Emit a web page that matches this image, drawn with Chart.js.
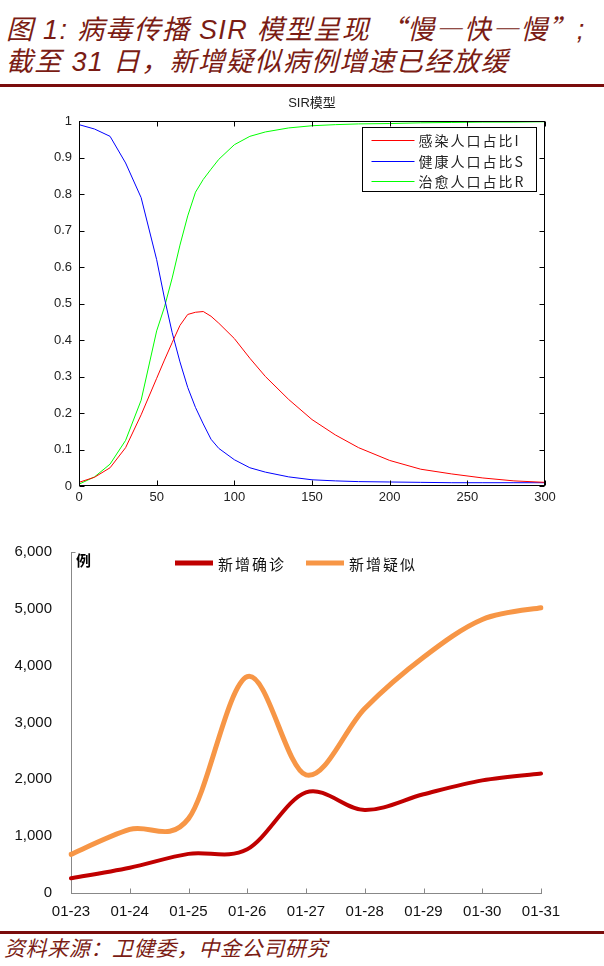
<!DOCTYPE html>
<html lang="zh">

<head>
  <meta charset="UTF-8">
  <title>SIR</title>
  <style>
    body {
      margin: 0;
      width: 604px;
      height: 966px;
      position: relative;
      background: #fff;
      overflow: hidden;
    }

    .headline {
      position: absolute;
      left: 6px;
      font: italic 27px/34px "Liberation Sans", "Noto Sans CJK SC", sans-serif;
      letter-spacing: 1.3px;
      color: #7a1c14;
      white-space: nowrap;
    }

    .cjk {
      font-family: "Noto Sans CJK SC", sans-serif;
    }

    .rule {
      position: absolute;
      left: 0;
      width: 604px;
      height: 3px;
      background: #7a0c0c;
    }

    #source {
      position: absolute;
      left: 4px;
      top: 935px;
      font: italic 21px/24px "Noto Sans CJK SC", sans-serif;
      letter-spacing: 0.6px;
      color: #7a1c14;
    }

    .box {
      position: absolute;
      left: 0;
      width: 604px;
    }
  </style>
</head>

<body>
  <div class="headline" style="top:11px">图 1: 病毒传播 SIR 模型呈现 <span class="cjk">“慢—快—慢”</span>;</div>
  <div class="headline" style="top:45px">截至 31 日，新增疑似病例增速已经放缓</div>
  <div class="rule" style="top:84px"></div>

  <div class="box" style="top:90px;height:425px"><canvas id="sir"></canvas></div>
  <div class="box" style="top:530px;height:400px"><canvas id="cases"></canvas></div>

  <div class="rule" style="top:931px"></div>
  <div id="source">资料来源：卫健委，中金公司研究</div>

  <script src="https://cdn.jsdelivr.net/npm/chart.js"></script>
  <script>
    // SIR model curves
    const sirDays = [0, 10, 20, 30, 40, 50, 55, 60, 65, 70, 75, 80, 85, 90, 100, 110, 120, 135, 150, 165, 180, 200, 220, 240, 260, 280, 300];
    const infected = [0.010, 0.024, 0.050, 0.105, 0.195, 0.295, 0.345, 0.393, 0.440, 0.470, 0.476, 0.478, 0.465, 0.446, 0.404, 0.350, 0.300, 0.237, 0.182, 0.140, 0.105, 0.070, 0.046, 0.033, 0.022, 0.014, 0.010];
    const susceptible = [0.990, 0.978, 0.958, 0.885, 0.790, 0.620, 0.515, 0.420, 0.340, 0.270, 0.215, 0.170, 0.128, 0.103, 0.072, 0.050, 0.038, 0.025, 0.017, 0.014, 0.012, 0.011, 0.010, 0.009, 0.009, 0.009, 0.009];
    const recovered = [0.005, 0.025, 0.060, 0.125, 0.235, 0.425, 0.490, 0.570, 0.660, 0.740, 0.805, 0.840, 0.868, 0.895, 0.935, 0.958, 0.970, 0.981, 0.987, 0.990, 0.992, 0.993, 0.995, 0.996, 0.997, 0.997, 0.998];

    // new cases per day
    const dates = ['01-23', '01-24', '01-25', '01-26', '01-27', '01-28', '01-29', '01-30', '01-31'];
    const confirmed = [259, 444, 688, 769, 1771, 1459, 1737, 1982, 2102];
    const suspected = [680, 1118, 1309, 3806, 2077, 3248, 4148, 4812, 5019];

    Chart.defaults.font.family = '"Liberation Sans", Arial, sans-serif';
    Chart.defaults.animation = false;

    const pts = (ys) => sirDays.map((d, i) => ({ x: d, y: ys[i] }));

    // matlab style box, inward ticks, title and legend
    const matlabFrame = {
      id: 'matlabFrame',
      afterDatasetsDraw(chart) {
        const { ctx, chartArea: a, scales: { x, y } } = chart;
        const L = Math.round(a.left) + 0.5, R = Math.round(a.right) - 0.5;
        const T = Math.round(a.top) + 0.5, B = Math.round(a.bottom) - 0.5;
        ctx.save();
        ctx.strokeStyle = '#000';
        ctx.lineWidth = 1;
        ctx.beginPath();
        x.ticks.forEach(t => {
          const px = Math.round(x.getPixelForValue(t.value)) + 0.5;
          ctx.moveTo(px, B); ctx.lineTo(px, B - 5);
          ctx.moveTo(px, T); ctx.lineTo(px, T + 5);
        });
        y.ticks.forEach(t => {
          const py = Math.round(y.getPixelForValue(t.value)) + 0.5;
          ctx.moveTo(L, py); ctx.lineTo(L + 5, py);
          ctx.moveTo(R, py); ctx.lineTo(R - 5, py);
        });
        ctx.stroke();
        ctx.strokeRect(L, T, R - L, B - T);

        // title
        ctx.fillStyle = '#222';
        ctx.font = '13px "Liberation Sans", "Noto Sans CJK SC", sans-serif';
        ctx.textAlign = 'center';
        ctx.textBaseline = 'middle';
        ctx.fillText('SIR模型', (a.left + a.right) / 2, a.top - 18);

        // legend
        const bx = Math.round(a.right) - 182.5, by = Math.round(a.top) + 6.5;
        ctx.fillStyle = '#fff';
        ctx.fillRect(bx, by, 174, 64);
        ctx.strokeRect(bx, by, 174, 64);
        ctx.textAlign = 'left';
        ctx.font = '14px "Noto Sans CJK SC", sans-serif';
        ctx.letterSpacing = '2px';
        chart.data.datasets.forEach((ds, i) => {
          const ry = by + 12.5 + i * 20.5;
          ctx.strokeStyle = ds.borderColor;
          ctx.beginPath();
          ctx.moveTo(bx + 9, Math.round(ry) + 0.5);
          ctx.lineTo(bx + 52, Math.round(ry) + 0.5);
          ctx.stroke();
          ctx.fillStyle = '#222';
          ctx.fillText(ds.label, bx + 56, ry + 1);
        });
        ctx.restore();
      }
    };

    new Chart(document.getElementById('sir'), {
      type: 'line',
      data: {
        datasets: [
          { label: '感染人口占比I', data: pts(infected), borderColor: '#ff0000' },
          { label: '健康人口占比S', data: pts(susceptible), borderColor: '#0000ff' },
          { label: '治愈人口占比R', data: pts(recovered), borderColor: '#00ff00' }
        ]
      },
      options: {
        responsive: true,
        maintainAspectRatio: false,
        layout: { padding: { top: 31, right: 59, left: 0, bottom: 0 } },
        elements: {
          line: { borderWidth: 1, tension: 0, fill: false },
          point: { radius: 0 }
        },
        plugins: { legend: { display: false }, tooltip: { enabled: false } },
        scales: {
          x: {
            type: 'linear', min: 0, max: 300,
            ticks: { stepSize: 50, color: '#222', font: { size: 13 }, padding: 4, maxRotation: 0 },
            grid: { display: false, drawTicks: false },
            border: { display: false },
            afterFit(s) { s.height = 29; }
          },
          y: {
            min: 0, max: 1,
            ticks: {
              stepSize: 0.1, color: '#222', font: { size: 13 }, padding: 7,
              callback: (v) => String(+v.toFixed(1))
            },
            grid: { display: false, drawTicks: false },
            border: { display: false },
            afterFit(s) { s.width = 79; s.paddingTop = 0; s.paddingBottom = 0; }
          }
        }
      },
      plugins: [matlabFrame]
    });

    // Excel smoothing is a plain Catmull-Rom spline, reset the control points
    const excelSmooth = {
      id: 'excelSmooth',
      beforeDatasetsDraw(chart) {
        chart.data.datasets.forEach((ds, i) => {
          const meta = chart.getDatasetMeta(i);
          const p = meta.data;
          p.forEach((pt, k) => {
            const prev = p[Math.max(k - 1, 0)];
            const next = p[Math.min(k + 1, p.length - 1)];
            const dx = (next.x - prev.x) / 6, dy = (next.y - prev.y) / 6;
            pt.cp1x = pt.x - dx; pt.cp1y = pt.y - dy;
            pt.cp2x = pt.x + dx; pt.cp2y = pt.y + dy;
          });
          meta.dataset._pointsUpdated = true;
        });
      }
    };

    // excel style inner ticks, unit label and legend
    const excelDecor = {
      id: 'excelDecor',
      afterDatasetsDraw(chart) {
        const { ctx, chartArea: a, scales: { x } } = chart;
        const B = Math.round(a.bottom) + 0.5, L = Math.round(a.left) + 0.5;
        ctx.save();
        ctx.strokeStyle = '#888';
        ctx.lineWidth = 1;
        ctx.beginPath();
        x.ticks.forEach((t, i) => {
          if (i === 0) return;
          const px = Math.round(x.getPixelForValue(t.value)) + 0.5;
          ctx.moveTo(px, B); ctx.lineTo(px, B - 5);
        });
        ctx.moveTo(L, Math.round(a.top) + 0.5);
        ctx.lineTo(L + 4, Math.round(a.top) + 0.5);
        ctx.stroke();

        ctx.fillStyle = '#000';
        ctx.textBaseline = 'middle';
        ctx.font = 'bold 15px "Noto Sans CJK SC", sans-serif';
        ctx.fillText('例', a.left + 5, a.top + 8);

        ctx.font = '15px "Noto Sans CJK SC", sans-serif';
        ctx.letterSpacing = '2px';
        const starts = [175, 306];
        chart.data.datasets.forEach((ds, i) => {
          const lx = starts[i], ly = a.top + 11;
          ctx.fillStyle = ds.borderColor;
          ctx.fillRect(lx, ly - 2.5, 38, 5);
          ctx.fillStyle = '#111';
          ctx.fillText(ds.label, lx + 43, ly + 1);
        });
        ctx.restore();
      }
    };

    new Chart(document.getElementById('cases'), {
      type: 'line',
      data: {
        labels: dates,
        datasets: [
          { label: '新增确诊', data: confirmed, borderColor: '#c00000', borderWidth: 4 },
          { label: '新增疑似', data: suspected, borderColor: '#f79646', borderWidth: 5 }
        ]
      },
      options: {
        responsive: true,
        maintainAspectRatio: false,
        layout: { padding: { top: 22, right: 63, left: 0, bottom: 0 } },
        elements: {
          line: { tension: 0.4, fill: false, borderCapStyle: 'round' },
          point: { radius: 0 }
        },
        plugins: { legend: { display: false }, tooltip: { enabled: false } },
        scales: {
          x: {
            offset: false,
            ticks: { color: '#111', font: { size: 15 }, padding: 10, maxRotation: 0, autoSkip: false },
            grid: { display: false, drawTicks: false },
            border: { display: true, color: '#888' },
            afterFit(s) { s.height = 37; }
          },
          y: {
            min: 0, max: 6000,
            ticks: { stepSize: 1000, color: '#111', font: { size: 15 }, padding: 19 },
            grid: { display: false, drawTicks: false },
            border: { display: true, color: '#888' },
            afterFit(s) { s.width = 71; s.paddingTop = 0; s.paddingBottom = 0; }
          }
        }
      },
      plugins: [excelSmooth, excelDecor]
    });
  </script>
</body>

</html>
